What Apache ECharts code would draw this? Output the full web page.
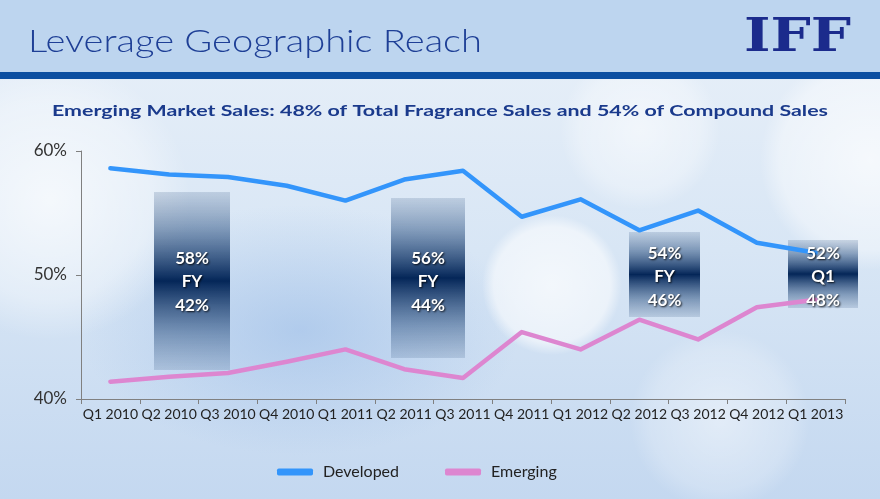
<!DOCTYPE html>
<html>
<head>
<meta charset="utf-8">
<script src="https://cdn.jsdelivr.net/npm/echarts@6/dist/echarts.min.js"></script>
<style>
html,body{margin:0;padding:0;}
#chart{width:880px;height:499px;
background:
 radial-gradient(circle at 552px 285px, rgba(255,255,255,0.7) 0, rgba(255,255,255,0.55) 58px, rgba(255,255,255,0) 70px),
 radial-gradient(circle at 870px 160px, rgba(255,255,255,0.7) 0, rgba(255,255,255,0.4) 90px, rgba(255,255,255,0) 110px),
 radial-gradient(circle at 640px 130px, rgba(255,255,255,0.55) 0, rgba(255,255,255,0.3) 60px, rgba(255,255,255,0) 80px),
 radial-gradient(circle at 50px 200px, rgba(255,255,255,0.7) 0, rgba(255,255,255,0.35) 100px, rgba(255,255,255,0) 140px),
 radial-gradient(circle at 720px 420px, rgba(255,255,255,0.45) 0, rgba(255,255,255,0.2) 70px, rgba(255,255,255,0) 90px),
 radial-gradient(ellipse at 300px 330px, rgba(150,185,230,0.55) 0, rgba(150,185,230,0) 220px),
 linear-gradient(180deg, #eaf1f9 0%, #d8e6f5 50%, #c4d8f0 100%);
}
</style>
</head>
<body>
<div id="chart"></div>
<script>
const quarters = ['Q1 2010','Q2 2010','Q3 2010','Q4 2010','Q1 2011','Q2 2011','Q3 2011','Q4 2011','Q1 2012','Q2 2012','Q3 2012','Q4 2012','Q1 2013'];
const developed = [58.6, 58.1, 57.9, 57.2, 56.0, 57.7, 58.4, 54.7, 56.1, 53.6, 55.2, 52.6, 51.8];
const emerging  = [41.4, 41.8, 42.1, 43.0, 44.0, 42.4, 41.7, 45.4, 44.0, 46.4, 44.8, 47.4, 48.0];
const boxTop = ['58%','56%','54%','52%'];
const boxMid = ['FY','FY','FY','Q1'];
const boxBot = ['42%','44%','46%','48%'];
const titleText = 'Leverage Geographic Reach';
const subtitleText = 'Emerging Market Sales: 48% of Total Fragrance Sales and 54% of Compound Sales';

const ctx = document.createElement('canvas').getContext('2d');
function fit(text, font, target){ ctx.font = font; return target / ctx.measureText(text).width; }

const titleFont = '300 31px Lato';
const subFont = 'bold 16px Lato';
const logoFont = 'bold 46px "DejaVu Serif"';

const boxes = [
  {x:154, y:192, w:76, h:178, cy:282},
  {x:391, y:198, w:74, h:160, cy:282},
  {x:629, y:232, w:71, h:85, cy:277},
  {x:788, y:240, w:70, h:68, cy:277}
];
const boxGrad = {type:'linear', x:0, y:0, x2:0, y2:1, colorStops:[
  {offset:0, color:'rgba(80,110,150,0.22)'},
  {offset:0.2, color:'rgba(60,95,140,0.55)'},
  {offset:0.5, color:'rgba(4,38,88,1)'},
  {offset:0.8, color:'rgba(60,95,140,0.55)'},
  {offset:1, color:'rgba(80,110,150,0.22)'}
]};

const graphics = [
  {type:'rect', shape:{x:0,y:0,width:880,height:72}, style:{fill:'#bdd5ef'}, z:0},
  {type:'rect', shape:{x:0,y:72,width:880,height:7}, style:{fill:'#0c4fa1'}, z:0},
  {type:'text', x:28, y:42, scaleX: fit(titleText, titleFont, 454),
    style:{text:titleText, font:titleFont, fill:'#1e3f96', textVerticalAlign:'middle'}, z:10},
  {type:'text', x:744, y:39, scaleX: fit('IFF', logoFont, 107),
    style:{text:'IFF', font:logoFont, fill:'#1b2b8c', textVerticalAlign:'middle'}, z:10},
  {type:'text', x:440, y:111, originX:0, scaleX: fit(subtitleText, subFont, 776),
    style:{text:subtitleText, font:subFont, fill:'#1a3a8c', textAlign:'center', textVerticalAlign:'middle'}, z:10}
];
boxes.forEach((b,i)=>{
  graphics.push({type:'rect', shape:{x:b.x,y:b.y,width:b.w,height:b.h}, style:{fill:boxGrad}, z:1});
  graphics.push({type:'text', x:b.x+b.w/2, y:b.cy, z:100,
    style:{text:boxTop[i]+'\n'+boxMid[i]+'\n'+boxBot[i], font:'bold 17px Lato', lineHeight:23.5,
      fill:'#ffffff', textAlign:'center', textVerticalAlign:'middle',
      textShadowColor:'rgba(0,0,0,0.85)', textShadowBlur:2, textShadowOffsetX:1, textShadowOffsetY:1}});
});

const chart = echarts.init(document.getElementById('chart'), null, {renderer:'canvas'});
chart.setOption({
  backgroundColor:'transparent',
  animation:false,
  grid:{left:81, right:35, top:151, bottom:100},
  legend:{left:277, top:464, itemWidth:36, itemHeight:7, icon:'roundRect', itemGap:46, padding:0,
    textStyle:{fontSize:16, color:'#222', fontFamily:'Lato', padding:[0,0,0,5]},
    data:['Developed','Emerging']},
  xAxis:{type:'category', data:quarters, boundaryGap:true,
    axisLine:{lineStyle:{color:'#808080', width:1}},
    axisTick:{show:true, length:5, lineStyle:{color:'#808080'}},
    axisLabel:{interval:0, fontSize:14, color:'#222', fontFamily:'Lato', margin:8}},
  yAxis:{type:'value', min:40, max:60, interval:10,
    axisLine:{show:true, lineStyle:{color:'#808080', width:1}},
    axisTick:{show:true, length:5, lineStyle:{color:'#808080'}},
    splitLine:{show:false},
    axisLabel:{formatter:'{value}%', fontSize:17, color:'#333', fontFamily:'Lato', margin:14}},
  series:[
    {name:'Developed', type:'line', data:developed, symbol:'none', z:5,
      lineStyle:{width:4.5, color:'#3395fb', join:'round', cap:'round'}, itemStyle:{color:'#3395fb'}},
    {name:'Emerging', type:'line', data:emerging, symbol:'none', z:5,
      lineStyle:{width:4.5, color:'#dd86d0', join:'round', cap:'round'}, itemStyle:{color:'#dd86d0'}}
  ],
  graphic:graphics
});
</script>
</body>
</html>
